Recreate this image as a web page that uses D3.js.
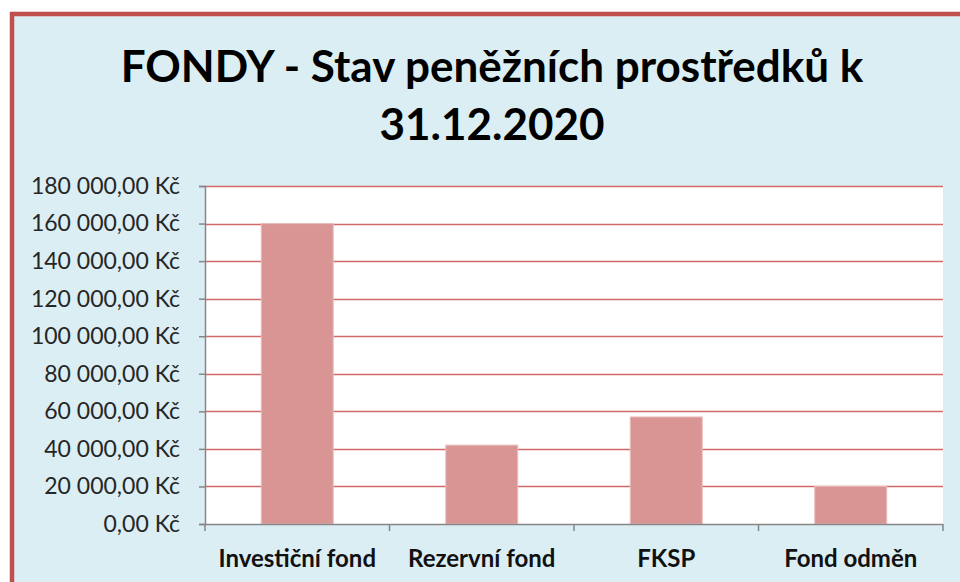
<!DOCTYPE html>
<html>
<head>
<meta charset="utf-8">
<script src="https://cdn.jsdelivr.net/npm/d3@7"></script>
<style>
  body { margin: 0; background: #fff; }
  svg { display: block; }
</style>
</head>
<body>
<script>
// fondy - stav k 31.12.2020
var categories = ['Investiční fond', 'Rezervní fond', 'FKSP', 'Fond odměn'];
var values = [160000, 42000, 57000, 20000];
var yTicks = [0, 20000, 40000, 60000, 80000, 100000, 120000, 140000, 160000, 180000];
var titleLines = ['FONDY - Stav peněžních prostředků k', '31.12.2020'];

var W = 960, H = 582;
var plot = {left: 205, right: 943, top: 186, bottom: 524};

var cz = d3.formatLocale({
  decimal: ',',
  thousands: ' ',
  grouping: [3],
  currency: ['', ' Kč']
});
var fmt = cz.format('$,.2f');

var svg = d3.select('body').append('svg')
    .attr('width', W)
    .attr('height', H);

// chart area with red frame (continues off the right/bottom edge)
svg.append('rect')
    .attr('x', 12)
    .attr('y', 14)
    .attr('width', 1000)
    .attr('height', 640)
    .attr('fill', '#dbeef4')
    .attr('stroke', '#c0504d')
    .attr('stroke-width', 4.5);

var title = svg.append('text')
    .attr('text-anchor', 'middle')
    .attr('font-family', 'Lato, sans-serif')
    .attr('font-weight', 'bold')
    .attr('font-size', '44px')
    .attr('fill', '#000');

title.selectAll('tspan')
  .data(titleLines)
  .enter()
  .append('tspan')
    .attr('x', 492)
    .attr('y', function (d, i) { return 82 + i * 58; })
    .text(function (d) { return d; });

var yScale = d3.scaleLinear()
    .domain([0, 180000])
    .range([plot.bottom, plot.top]);

var xScale = d3.scaleBand()
    .domain(categories)
    .range([plot.left, plot.right])
    .paddingInner(0)
    .paddingOuter(0);

// plot background
svg.append('rect')
    .attr('x', plot.left)
    .attr('y', plot.top)
    .attr('width', plot.right - plot.left)
    .attr('height', plot.bottom - plot.top)
    .attr('fill', '#fff');

// gridlines
svg.append('g')
  .selectAll('line')
  .data(yTicks.filter(function (d) { return d > 0; }))
  .enter()
  .append('line')
    .attr('x1', plot.left)
    .attr('x2', plot.right)
    .attr('y1', function (d) { return Math.round(yScale(d)) + 0.5; })
    .attr('y2', function (d) { return Math.round(yScale(d)) + 0.5; })
    .attr('stroke', '#cf6a68')
    .attr('stroke-width', 1.5);

// bars
var barFrac = 0.39;
svg.append('g')
  .selectAll('rect')
  .data(values)
  .enter()
  .append('rect')
    .attr('x', function (d, i) {
      return xScale(categories[i]) + xScale.bandwidth() * (1 - barFrac) / 2;
    })
    .attr('y', function (d) { return yScale(d); })
    .attr('width', xScale.bandwidth() * barFrac)
    .attr('height', function (d) { return yScale(0) - yScale(d); })
    .attr('fill', '#d99594')
    .attr('stroke', '#e9bcbb')
    .attr('stroke-width', 1);

// y axis
var yAxis = d3.axisLeft(yScale)
    .tickValues(yTicks)
    .tickFormat(fmt)
    .tickSize(6)
    .tickPadding(19);

var gy = svg.append('g')
    .attr('transform', 'translate(' + plot.left + ',0)')
    .call(yAxis);

gy.select('.domain').attr('stroke', '#868686').attr('stroke-width', 1.5);
gy.selectAll('.tick line').attr('stroke', '#868686').attr('stroke-width', 1.5);
gy.selectAll('.tick text')
    .attr('font-family', 'Lato, sans-serif')
    .attr('font-size', '23px')
    .attr('fill', '#262626');

// x axis: ticks on category boundaries
var gx = svg.append('g');
gx.append('line')
    .attr('x1', plot.left)
    .attr('x2', plot.right)
    .attr('y1', plot.bottom + 0.5)
    .attr('y2', plot.bottom + 0.5)
    .attr('stroke', '#868686')
    .attr('stroke-width', 1.5);

var bounds = categories.map(function (c) { return xScale(c); }).concat([plot.right]);
gx.selectAll('.xtick')
  .data(bounds)
  .enter()
  .append('line')
    .attr('class', 'xtick')
    .attr('x1', function (d) { return d; })
    .attr('x2', function (d) { return d; })
    .attr('y1', plot.bottom)
    .attr('y2', plot.bottom + 7)
    .attr('stroke', '#868686')
    .attr('stroke-width', 1.5);

gx.selectAll('.xlabel')
  .data(categories)
  .enter()
  .append('text')
    .attr('class', 'xlabel')
    .attr('x', function (d) { return xScale(d) + xScale.bandwidth() / 2; })
    .attr('y', 567)
    .attr('text-anchor', 'middle')
    .attr('font-family', 'Lato, sans-serif')
    .attr('font-weight', 'bold')
    .attr('font-size', '24px')
    .attr('fill', '#111')
    .text(function (d) { return d; });
</script>
</body>
</html>
